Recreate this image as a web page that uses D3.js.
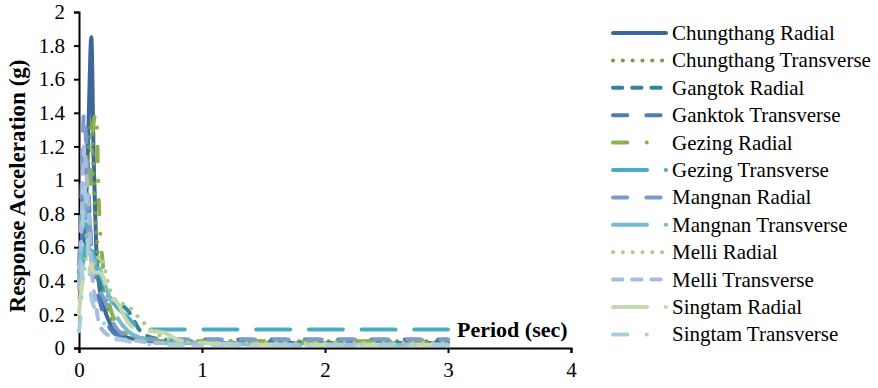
<!DOCTYPE html>
<html>
<head>
<meta charset="utf-8">
<script src="https://cdn.jsdelivr.net/npm/d3@7"></script>
</head>
<body style="margin:0">
<div id="chart"></div>
<script>
// periods (sec) at which the spectra were sampled
const periods = [0, 0.02, 0.04, 0.06, 0.08, 0.1, 0.12, 0.14, 0.16, 0.2, 0.25, 0.3, 0.4, 0.5, 0.6, 0.7, 0.8, 1.0, 1.5, 2.0, 2.5, 3.0];

const seriesNames = [
	"Chungthang Radial", "Chungthang Transverse", "Gangtok Radial", "Ganktok Transverse",
	"Gezing Radial", "Gezing Transverse", "Mangnan Radial", "Mangnan Transverse",
	"Melli Radial", "Melli Transverse", "Singtam Radial", "Singtam Transverse"
];

// response acceleration (g), one array per record
const chungthangRadial     = [0.45, 0.5, 0.65, 0.9, 1.4, 1.85, 1.1, 0.6, 0.4, 0.25, 0.15, 0.1, 0.06, 0.05, 0.04, 0.035, 0.03, 0.03, 0.03, 0.03, 0.03, 0.03];
const chungthangTransverse = [0.5, 0.55, 0.7, 0.9, 1.2, 1.35, 1.0, 0.7, 0.5, 0.35, 0.2, 0.12, 0.08, 0.06, 0.05, 0.04, 0.04, 0.04, 0.04, 0.04, 0.04, 0.04];
const gangtokRadial        = [0.45, 0.5, 0.6, 0.65, 0.6, 0.55, 0.5, 0.45, 0.4, 0.35, 0.3, 0.28, 0.22, 0.1, 0.06, 0.05, 0.04, 0.03, 0.03, 0.03, 0.03, 0.03];
const ganktokTransverse    = [0.45, 0.6, 1.0, 1.27, 0.9, 0.6, 0.45, 0.35, 0.3, 0.2, 0.12, 0.08, 0.06, 0.05, 0.05, 0.05, 0.05, 0.05, 0.05, 0.05, 0.05, 0.05];
const gezingRadial         = [0.35, 0.4, 0.5, 0.6, 0.8, 1.1, 1.35, 1.4, 0.9, 0.45, 0.25, 0.15, 0.08, 0.06, 0.05, 0.04, 0.04, 0.04, 0.04, 0.04, 0.04, 0.04];
const gezingTransverse     = [0.4, 0.45, 0.55, 0.7, 0.8, 0.6, 0.55, 0.5, 0.45, 0.4, 0.3, 0.25, 0.18, 0.11, 0.11, 0.11, 0.11, 0.11, 0.11, 0.11, 0.11, 0.11];
const mangnanRadial        = [0.5, 0.9, 1.4, 1.2, 0.8, 0.6, 0.5, 0.4, 0.35, 0.3, 0.2, 0.12, 0.07, 0.05, 0.05, 0.05, 0.05, 0.05, 0.05, 0.05, 0.05, 0.05];
const mangnanTransverse    = [0.4, 0.6, 0.85, 0.7, 0.6, 0.55, 0.5, 0.55, 0.5, 0.4, 0.3, 0.2, 0.1, 0.06, 0.04, 0.03, 0.03, 0.03, 0.02, 0.02, 0.02, 0.02];
const melliRadial          = [0.3, 0.35, 0.45, 0.55, 0.6, 0.55, 0.5, 0.5, 0.55, 0.5, 0.35, 0.28, 0.25, 0.17, 0.1, 0.06, 0.04, 0.03, 0.03, 0.03, 0.03, 0.03];
const melliTransverse      = [0.35, 0.7, 1.2, 1.05, 0.8, 0.5, 0.35, 0.25, 0.15, 0.1, 0.07, 0.05, 0.05, 0.04, 0.03, 0.03, 0.02, 0.02, 0.02, 0.02, 0.02, 0.02];
const singtamRadial        = [0.2, 0.35, 0.42, 0.4, 0.45, 0.5, 0.45, 0.45, 0.45, 0.42, 0.3, 0.28, 0.15, 0.1, 0.1, 0.09, 0.05, 0.03, 0.02, 0.02, 0.02, 0.02];
const singtamTransverse    = [0.1, 0.3, 1.0, 0.8, 0.5, 0.3, 0.25, 0.2, 0.18, 0.15, 0.1, 0.06, 0.04, 0.03, 0.02, 0.02, 0.02, 0.02, 0.02, 0.02, 0.02, 0.02];

const seriesValues = [
	chungthangRadial, chungthangTransverse, gangtokRadial, ganktokTransverse,
	gezingRadial, gezingTransverse, mangnanRadial, mangnanTransverse,
	melliRadial, melliTransverse, singtamRadial, singtamTransverse
];

const xTicks = [0, 1, 2, 3, 4];
const yTicks = [0, 0.2, 0.4, 0.6, 0.8, 1, 1.2, 1.4, 1.6, 1.8, 2];

// ----------------------------------
// STYLES (excel-ish palette + dash types)
// ----------------------------------
const colors = ["#3D6699", "#77A040", "#31859C", "#4A7EBB", "#8DB050", "#4BACC6",
	"#7E9BD0", "#75BCD3", "#AFCD88", "#A9BBDE", "#C5DAAA", "#A7CFDB"];

const DOT = "0.1 9.7",
	DASH = "9.3 9.9",
	LONGDASH = "14.3 19",
	LONGDASHDOT = "14.3 19.4 0.1 19.2",
	LONGERDASH = "34 18.7";
const dashes = [null, DOT, DASH, LONGDASH, LONGDASHDOT, LONGERDASH,
	LONGDASH, LONGERDASH, DOT, DASH, LONGERDASH, LONGDASHDOT];

const fontFam = "Liberation Serif";

const width = 878, height = 388;
const margin = {left: 79, top: 12, right: 307, bottom: 40};

const svg = d3.select("#chart").append("svg")
	.attr("width", width)
	.attr("height", height);

const x = d3.scaleLinear().domain([0, 4]).range([margin.left, width - margin.right]);
const y = d3.scaleLinear().domain([0, 2]).range([height - margin.bottom, margin.top]);

// ----------------------------------
// AXES
// ----------------------------------
const yAxis = d3.axisLeft(y).tickValues(yTicks).tickSize(5).tickPadding(9).tickFormat(d3.format("~g"));
const xAxis = d3.axisBottom(x).tickValues(xTicks).tickSize(5).tickPadding(9).tickFormat(d3.format("d"));

const gy = svg.append("g")
	.attr("transform", `translate(${margin.left},0)`)
	.call(yAxis);
const gx = svg.append("g")
	.attr("transform", `translate(0,${y(0)})`)
	.call(xAxis);

[gx, gy].forEach(g => {
	g.attr("font-family", fontFam).attr("font-size", 21);
	g.select(".domain").attr("stroke", "#000").attr("stroke-width", 2);
	g.selectAll(".tick line").attr("stroke", "#000").attr("stroke-width", 2);
	g.selectAll(".tick text")
		.style("font-family", `"${fontFam}"`)
		.style("font-size", "21px")
		.attr("fill", "#000");
});

// ----------------------------------
// LINES
// ----------------------------------
const line = d3.line()
	.x((d, i) => x(periods[i]))
	.y(d => y(d))
	.curve(d3.curveMonotoneX);

const plot = svg.append("g").classed("lines", true);
seriesValues.forEach((vals, i) => {
	plot.append("path")
		.datum(vals)
		.attr("d", line)
		.attr("fill", "none")
		.attr("stroke", colors[i])
		.attr("stroke-width", 4)
		.attr("stroke-linecap", "round")
		.attr("stroke-linejoin", "round")
		.attr("stroke-dasharray", dashes[i]);
});

// ----------------------------------
// AXIS TITLES
// ----------------------------------
svg.append("text")
	.text("Response Acceleration (g)")
	.style("font-family", `"${fontFam}"`)
	.style("font-size", "23px")
	.style("font-weight", "bold")
	.attr("text-anchor", "middle")
	.attr("transform", `translate(25,${y(1) + 6}) rotate(-90)`);

svg.append("text")
	.text("Period (sec)")
	.style("font-family", `"${fontFam}"`)
	.style("font-size", "22px")
	.style("font-weight", "bold")
	.attr("x", 457)
	.attr("y", 337);

// ----------------------------------
// LEGEND
// ----------------------------------
const legend = svg.append("g").classed("legend", true);
seriesNames.forEach((name, i) => {
	const ly = 33 + i * 27.4;
	legend.append("line")
		.attr("x1", 613).attr("x2", 666)
		.attr("y1", ly).attr("y2", ly)
		.attr("stroke", colors[i])
		.attr("stroke-width", 4)
		.attr("stroke-linecap", "round")
		.attr("stroke-dasharray", dashes[i]);
	legend.append("text")
		.text(name)
		.attr("x", 672)
		.attr("y", ly)
		.attr("dy", "0.33em")
		.style("font-family", `"${fontFam}"`)
		.style("font-size", "21px");
});
</script>
</body>
</html>
